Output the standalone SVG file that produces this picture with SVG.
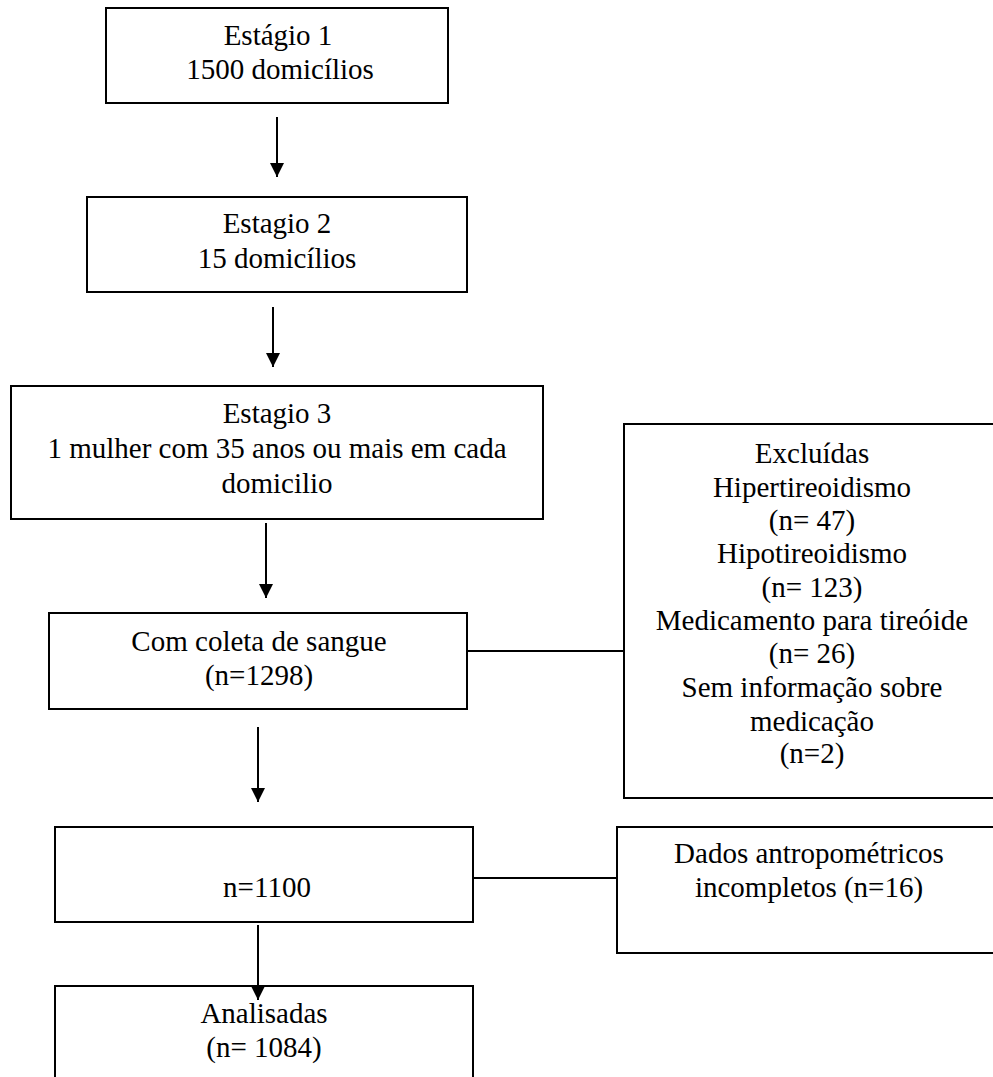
<svg xmlns="http://www.w3.org/2000/svg" width="993" height="1077" viewBox="0 0 993 1077">
<style>
.box{fill:#fff;stroke:#000;stroke-width:2}
.t{font-family:"Liberation Serif","Times New Roman",serif;font-size:29px;fill:#000;text-anchor:middle}
.ln{stroke:#000;stroke-width:2;fill:none}
</style>
<defs>
<marker id="ah" markerUnits="userSpaceOnUse" markerWidth="14" markerHeight="14" refX="14" refY="7" orient="auto">
<path d="M0,0 L14,7 L0,14 z" fill="#000"/>
</marker>
</defs>
<rect width="993" height="1077" fill="#fff"/>
<g id="connectors">
<line class="ln" x1="277" y1="117" x2="277" y2="177" marker-end="url(#ah)"/>
<line class="ln" x1="273" y1="307" x2="273" y2="367" marker-end="url(#ah)"/>
<line class="ln" x1="266" y1="523" x2="266" y2="598" marker-end="url(#ah)"/>
<line class="ln" x1="258" y1="727" x2="258" y2="802" marker-end="url(#ah)"/>
<line class="ln" x1="467" y1="651" x2="624" y2="651"/>
<line class="ln" x1="473" y1="878" x2="617" y2="878"/>
</g>
<g id="n1">
<rect class="box" x="106" y="8" width="342" height="95"/>
<text class="t" x="278" y="45">Estágio 1</text>
<text class="t" x="280" y="79">1500 domicílios</text>
</g>
<g id="n2">
<rect class="box" x="87" y="197" width="380" height="95"/>
<text class="t" x="277" y="233">Estagio 2</text>
<text class="t" x="277" y="268">15 domicílios</text>
</g>
<g id="n3">
<rect class="box" x="11" y="386" width="532" height="133"/>
<text class="t" x="277" y="423">Estagio 3</text>
<text class="t" x="277" y="458">1 mulher com 35 anos ou mais em cada</text>
<text class="t" x="277" y="493">domicilio</text>
</g>
<g id="n4">
<rect class="box" x="49" y="613" width="418" height="96"/>
<text class="t" x="259" y="651">Com coleta de sangue</text>
<text class="t" x="259" y="685">(n=1298)</text>
</g>
<g id="n5">
<rect class="box" x="624" y="424" width="376" height="374"/>
<text class="t" x="812" y="463">Excluídas</text>
<text class="t" x="812" y="497">Hipertireoidismo</text>
<text class="t" x="812" y="530">(n= 47)</text>
<text class="t" x="812" y="563">Hipotireoidismo</text>
<text class="t" x="812" y="597">(n= 123)</text>
<text class="t" x="812" y="630">Medicamento para tireóide</text>
<text class="t" x="812" y="663">(n= 26)</text>
<text class="t" x="812" y="697">Sem informação sobre</text>
<text class="t" x="812" y="731">medicação</text>
<text class="t" x="812" y="763">(n=2)</text>
</g>
<g id="n6">
<rect class="box" x="55" y="827" width="418" height="95"/>
<text class="t" x="267" y="897">n=1100</text>
</g>
<g id="n7">
<rect class="box" x="617" y="827" width="383" height="126"/>
<text class="t" x="809" y="863">Dados antropométricos</text>
<text class="t" x="809" y="897">incompletos (n=16)</text>
</g>
<g id="n8">
<rect class="box" x="55" y="986" width="418" height="110"/>
<text class="t" x="264" y="1023">Analisadas</text>
<text class="t" x="264" y="1057">(n= 1084)</text>
</g>
<g id="connectors-top">
<line class="ln" x1="258" y1="925" x2="258" y2="1000" marker-end="url(#ah)"/>
</g>
</svg>
